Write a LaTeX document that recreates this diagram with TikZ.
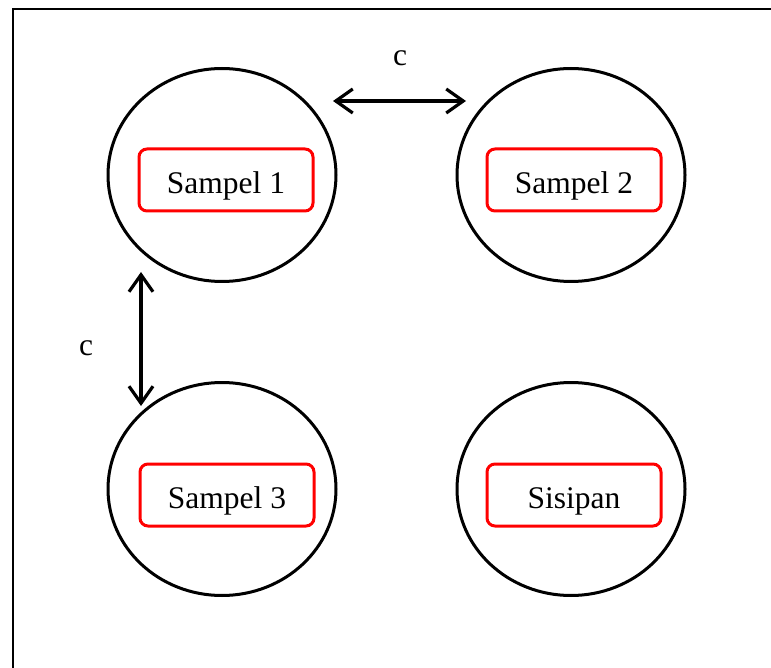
\documentclass[tikz,border=0pt]{standalone}
\usepackage{fontspec}
\setmainfont{Liberation Serif}
\usetikzlibrary{shapes.geometric,arrows.meta}
\tikzset{
	circ/.style={draw, ellipse, line width=3pt, minimum width=228pt, minimum height=213pt},
	redbox/.style={draw=red, line width=3pt, rounded corners=8pt, minimum width=174pt, minimum height=62pt, text height=27pt, text depth=0pt, font=\fontsize{31.5}{36}\selectfont},
	link/.style={line width=3.2pt, {Straight Barb[length=17pt,width=24pt,line width=3.2pt]}-{Straight Barb[length=17pt,width=24pt,line width=3.2pt]}}
}
\begin{document}
\begin{tikzpicture}[x=1pt,y=-1pt]
	\useasboundingbox (0,0) rectangle (771,668);
	
	% frame
	\draw[line width=2.8pt] (13,668) -- (13,9) -- (771,9);
	
	% samples
	\node[circ] (samp1) at (222,175){};
	\node[circ] (samp2) at (571,175){};
	\node[circ] (samp3) at (222,489){};
	\node[circ] (sisip) at (571,489){};
	
	\node[redbox] (box1) at (226,180){Sampel 1};
	\node[redbox] (box2) at (574,180){Sampel 2};
	\node[redbox] (box3) at (227,495){Sampel 3};
	\node[redbox] (box4) at (574,495){Sisipan};
	
	% distances
	\coordinate (h1) at (333,101);
	\coordinate (h2) at (466,101);
	\coordinate (v1) at (141,272);
	\coordinate (v2) at (141,406);
	\draw[link] (h1) -- (h2);
	\draw[link] (v1) -- (v2);
	
	\node[font=\fontsize{31.5}{36}\selectfont] (lab1) at (400,58) {c};
	\node[font=\fontsize{31.5}{36}\selectfont] (lab2) at (86,348) {c};
	
\end{tikzpicture}
\end{document}
